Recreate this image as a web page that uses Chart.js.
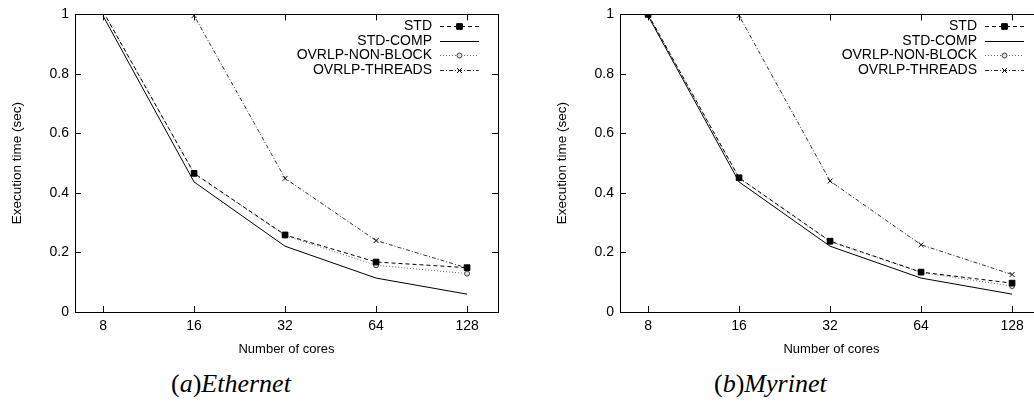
<!DOCTYPE html>
<html>
<head>
<meta charset="utf-8">
<script src="https://cdn.jsdelivr.net/npm/chart.js@4/dist/chart.umd.min.js"></script>
<style>
  body { margin: 0; width: 1034px; height: 407px; overflow: hidden; background: #fff; position: relative; }
  .box { position: absolute; top: 0; width: 517px; height: 360px; }
  .cap { position: absolute; top: 369px; font-family: "Liberation Serif", "DejaVu Serif", serif; font-size: 26px; font-style: italic; color: #000; white-space: nowrap; }
  .cap span { font-style: normal; }
</style>
</head>
<body>
<div class="box" style="left:0"><canvas id="eth" width="517" height="360"></canvas></div>
<div class="box" style="left:545px"><canvas id="myr" width="517" height="360"></canvas></div>
<div class="cap" style="left:171px"><span>(</span>a<span>)</span>Ethernet</div>
<div class="cap" style="left:714px"><span>(</span>b<span>)</span>Myrinet</div>
<script>
// data
const cores = [8, 16, 32, 64, 128];
const seriesNames = ["STD", "STD-COMP", "OVRLP-NON-BLOCK", "OVRLP-THREADS"];
const yTicks = [0, 0.2, 0.4, 0.6, 0.8, 1];

const ethStd = [1.01, 0.466, 0.259, 0.168, 0.149];
const ethComp = [0.995, 0.437, 0.221, 0.114, 0.06];
const ethNonBlock = [1.01, 0.465, 0.257, 0.157, 0.129];
const ethThreads = [1.9, 0.996, 0.449, 0.24, 0.148];

const myrStd = [1.0, 0.451, 0.238, 0.134, 0.097];
const myrComp = [0.995, 0.437, 0.221, 0.114, 0.06];
const myrNonBlock = [1.0, 0.45, 0.236, 0.133, 0.087];
const myrThreads = [1.9, 0.996, 0.44, 0.226, 0.126];

const FONT = "'Liberation Sans', Arial, sans-serif";

const styles = [
  { borderColor: "#000", borderDash: [4, 3], pointStyle: "rect", pointRadius: 4, pointBackgroundColor: "#000", pointBorderColor: "#000" },
  { borderColor: "#000", borderDash: [], pointStyle: "circle", pointRadius: 0 },
  { borderColor: "#666", borderDash: [1, 2], pointStyle: "circle", pointRadius: 2.5, pointBackgroundColor: "#ddd", pointBorderColor: "#444" },
  { borderColor: "#333", borderDash: [4, 2, 1, 2], pointStyle: "crossRot", pointRadius: 3.5, pointBorderColor: "#000" }
];

// gnuplot style frame with inward ticks on all four sides
const framePlugin = {
  id: "frame",
  afterDraw(chart) {
    const { ctx, chartArea: a, scales } = chart;
    ctx.save();
    ctx.strokeStyle = "#000";
    ctx.lineWidth = 1;
    ctx.setLineDash([]);
    ctx.strokeRect(Math.round(a.left) + 0.5, Math.round(a.top) + 0.5, Math.round(a.right - a.left), Math.round(a.bottom - a.top));
    ctx.beginPath();
    yTicks.forEach(v => {
      const y = Math.round(scales.y.getPixelForValue(v)) + 0.5;
      ctx.moveTo(a.left, y); ctx.lineTo(a.left + 6, y);
      ctx.moveTo(a.right, y); ctx.lineTo(a.right - 6, y);
    });
    cores.forEach(v => {
      const x = Math.round(scales.x.getPixelForValue(v)) + 0.5;
      ctx.moveTo(x, a.bottom); ctx.lineTo(x, a.bottom - 6);
      ctx.moveTo(x, a.top); ctx.lineTo(x, a.top + 6);
    });
    ctx.stroke();
    ctx.restore();
  }
};

// legend: right aligned text, then a line sample with the marker
const keyPlugin = {
  id: "key",
  afterDraw(chart) {
    const { ctx, chartArea: a } = chart;
    ctx.save();
    ctx.font = "14px " + FONT;
    ctx.textAlign = "right";
    ctx.textBaseline = "middle";
    chart.data.datasets.forEach((ds, i) => {
      const y = a.top + 12 + i * 14.5;
      const x2 = a.right - 19;
      const x1 = x2 - 39;
      ctx.fillStyle = "#000";
      ctx.fillText(ds.label, x1 - 8, y);
      ctx.strokeStyle = ds.borderColor;
      ctx.lineWidth = 1;
      ctx.setLineDash(ds.borderDash);
      ctx.beginPath();
      ctx.moveTo(x1, Math.round(y) + 0.5);
      ctx.lineTo(x2, Math.round(y) + 0.5);
      ctx.stroke();
      ctx.setLineDash([]);
      if (ds.pointRadius > 0) {
        ctx.fillStyle = ds.pointBackgroundColor || "#fff";
        ctx.strokeStyle = ds.pointBorderColor;
        Chart.helpers.drawPoint(ctx, { pointStyle: ds.pointStyle, radius: ds.pointRadius, rotation: 0, borderWidth: 1 }, (x1 + x2) / 2, Math.round(y) + 0.5);
      }
    });
    ctx.restore();
  }
};

function makeChart(id, lists) {
  new Chart(document.getElementById(id), {
    type: "line",
    data: {
      datasets: lists.map((vals, i) => Object.assign({
        label: seriesNames[i],
        data: cores.map((c, j) => ({ x: c, y: vals[j] })),
        borderWidth: 1,
        pointBorderWidth: 1,
        fill: false,
        tension: 0,
        clip: 0
      }, styles[i]))
    },
    options: {
      responsive: false,
      animation: false,
      devicePixelRatio: 1,
      layout: { padding: { top: 12, right: 19, left: 0, bottom: 0 } },
      plugins: { legend: { display: false }, tooltip: { enabled: false } },
      scales: {
        x: {
          type: "logarithmic",
          min: 6.46,
          max: 162,
          afterBuildTicks: s => { s.ticks = cores.map(v => ({ value: v })); },
          afterFit: s => { s.height = 48; },
          grid: { display: false, drawTicks: false },
          border: { display: false },
          ticks: { color: "#000", font: { family: FONT, size: 14 }, padding: 6, autoSkip: false, maxRotation: 0, callback: v => String(v) },
          title: { display: true, text: "Number of cores", color: "#000", font: { family: FONT, size: 13 }, padding: { top: 0, bottom: 3 } }
        },
        y: {
          min: 0,
          max: 1,
          afterBuildTicks: s => { s.ticks = yTicks.map(v => ({ value: v })); },
          afterFit: s => { s.width = 75; },
          grid: { display: false, drawTicks: false },
          border: { display: false },
          ticks: { color: "#000", font: { family: FONT, size: 14 }, padding: 6, callback: v => String(v) },
          title: { display: true, text: "Execution time (sec)", color: "#000", font: { family: FONT, size: 13.5 }, padding: { top: 9, bottom: 0 } }
        }
      }
    },
    plugins: [framePlugin, keyPlugin]
  });
}

makeChart("eth", [ethStd, ethComp, ethNonBlock, ethThreads]);
makeChart("myr", [myrStd, myrComp, myrNonBlock, myrThreads]);
</script>
</body>
</html>
